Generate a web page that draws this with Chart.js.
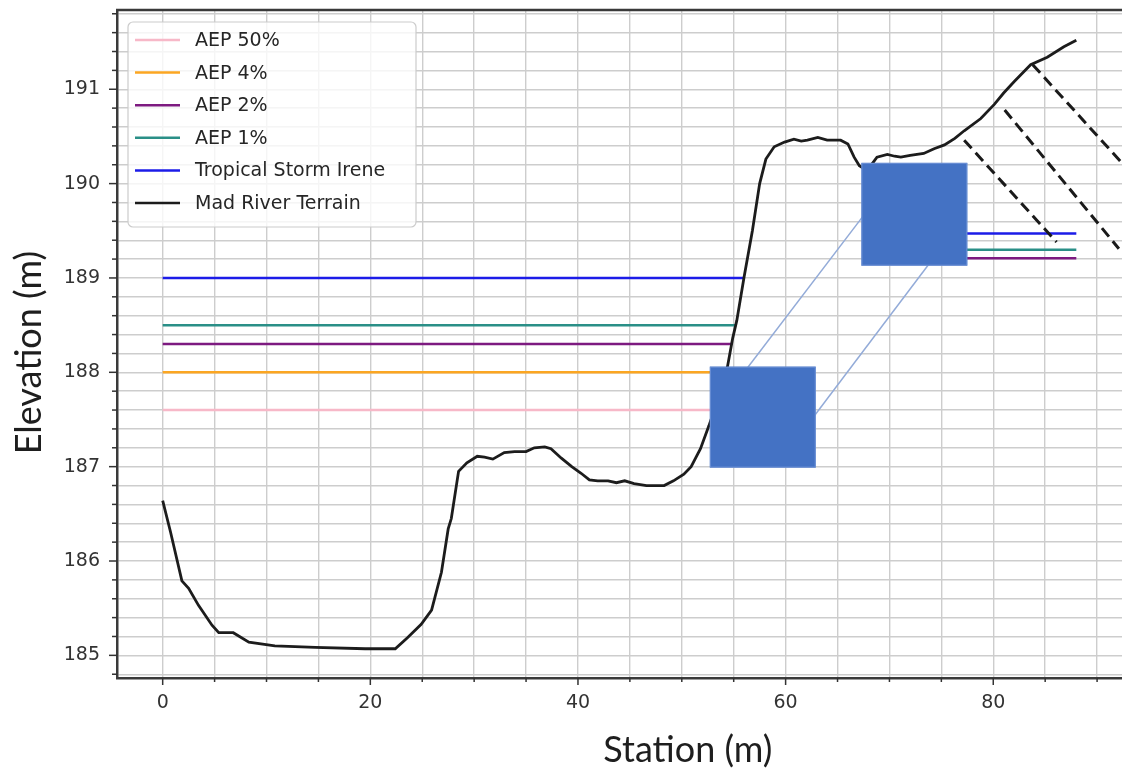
<!DOCTYPE html>
<html>
<head>
<meta charset="utf-8">
<script src="https://cdn.jsdelivr.net/npm/chart.js@4.4.1/dist/chart.umd.min.js"></script>
<style>
  html, body { margin: 0; padding: 0; background: #fff; overflow: hidden; }
  #wrap { width: 1122px; height: 771px; }
</style>
</head>
<body>
<div id="wrap"><canvas id="xs" width="1122" height="771"></canvas></div>
<script>
// Mad River cross section
const stationM = [0, 0.75, 1.85, 2.5, 3.45, 4.75, 5.4, 6.8, 8.3, 10.8,
  14.7, 19.5, 22.4, 23.6, 24.9, 25.9, 26.85, 27.5, 27.8, 28.5,
  29.3, 30.3, 31.0, 31.8, 32.9, 33.9, 35.0, 35.8, 36.8, 37.4,
  38.4, 39.4, 40.3, 41.1, 41.9, 42.9, 43.7, 44.5, 45.4, 46.6,
  47.4, 48.3, 49.2, 50.2, 50.9, 51.8, 52.6, 53.5, 54.4, 54.9,
  55.3, 56.0, 56.8, 57.5, 58.1, 58.9, 59.9, 60.8, 61.5, 62.1,
  63.1, 64.0, 65.3, 66.0, 66.6, 67.1, 67.7, 68.2, 68.8, 69.8,
  70.5, 71.1, 72.0, 73.3, 74.3, 75.3, 76.3, 77.2, 78.8, 80.1,
  81.0, 82.0, 83.6, 85.2, 86.8, 88.0];
const terrainM = [186.64, 186.31, 185.79, 185.71, 185.53, 185.32, 185.24, 185.24, 185.14, 185.10,
  185.085, 185.07, 185.07, 185.19, 185.33, 185.48, 185.88, 186.34, 186.45, 186.95,
  187.04, 187.11, 187.10, 187.08, 187.15, 187.16, 187.16, 187.20, 187.21, 187.19,
  187.09, 187.00, 186.93, 186.86, 186.85, 186.85, 186.83, 186.85, 186.82, 186.80,
  186.80, 186.80, 186.85, 186.92, 187.00, 187.19, 187.43, 187.72, 188.06, 188.36,
  188.55, 189.01, 189.50, 190.00, 190.26, 190.39, 190.44, 190.47, 190.45, 190.46,
  190.49, 190.46, 190.46, 190.42, 190.28, 190.19, 190.15, 190.19, 190.28, 190.31,
  190.29, 190.28, 190.30, 190.32, 190.37, 190.41, 190.48, 190.56, 190.69, 190.84,
  190.96, 191.08, 191.26, 191.34, 191.45, 191.52];

// water surface elevations (left overbank / right overbank)
const levelNames = ["AEP 50%", "AEP 4%", "AEP 2%", "AEP 1%", "Tropical Storm Irene"];
const levelColors = ["#f7b8c8", "#fba622", "#7d1a80", "#2a8f87", "#1c1ce8"];
const levelLeft = [187.6, 188.0, 188.3, 188.5, 189.0];
const levelLeftEnd = [53.1, 54.3, 54.85, 55.25, 56.0];
const levelRight = [null, null, 189.21, 189.3, 189.47];
const rightStart = 70;
const rightEnd = 88;

// culvert sketch (two faces + connecting edges) and dashed slope lines
const boxLeft = [52.7, 67.3];
const boxRight = [62.9, 77.5];
const boxTop = [188.06, 190.22];
const boxBottom = [186.99, 189.13];
const edgeX0 = [56.0, 62.3];
const edgeY0 = [188.0, 187.47];
const edgeX1 = [67.7, 74.3];
const edgeY1 = [189.69, 189.22];
const dashX0 = [77.2, 81.1, 83.8];
const dashY0 = [190.46, 190.78, 191.26];
const dashX1 = [86.1, 92.1, 99.9];
const dashY1 = [189.38, 189.31, 189.31];

// axes
const xMin = -4.4, xMax = 92.4, xStep = 5;
const yMin = 184.76, yMax = 191.84, yStep = 0.2;
const xMajor = [0, 20, 40, 60, 80];
const yMajor = [185, 186, 187, 188, 189, 190, 191];

const tickFont = { family: "DejaVu Sans", size: 19 };
const isMajor = (list, v) => list.some(m => Math.abs(m - v) < 1e-6);

const datasets = [];
datasets.push({
  label: "Mad River Terrain",
  data: stationM.map((s, i) => ({ x: s, y: terrainM[i] })),
  borderColor: "#1c1c1c",
  borderWidth: 2.8,
  order: 0
});
levelNames.forEach((name, i) => {
  const pts = [{ x: 0, y: levelLeft[i] }, { x: levelLeftEnd[i], y: levelLeft[i] }];
  if (levelRight[i] !== null) {
    pts.push({ x: (levelLeftEnd[i] + rightStart) / 2, y: null });
    pts.push({ x: rightStart, y: levelRight[i] }, { x: rightEnd, y: levelRight[i] });
  }
  datasets.push({ label: name, data: pts, borderColor: levelColors[i], borderWidth: 2.5, order: 2 });
});
dashX0.forEach((_, i) => {
  datasets.push({
    label: "slope" + i,
    data: [{ x: dashX0[i], y: dashY0[i] }, { x: dashX1[i], y: dashY1[i] }],
    borderColor: "#1a1a1a", borderWidth: 3, borderDash: [11, 6], order: 1
  });
});
edgeX0.forEach((_, i) => {
  datasets.push({
    label: "edge" + i,
    data: [{ x: edgeX0[i], y: edgeY0[i] }, { x: edgeX1[i], y: edgeY1[i] }],
    borderColor: "#93abd8", borderWidth: 1.5, order: 1
  });
});
datasets.forEach(d => { d.showLine = true; d.pointRadius = 0; d.spanGaps = false; d.fill = false; });

const legendItems = [1, 2, 3, 4, 5, 0];

const sketch = {
  id: "sketch",
  afterDatasetsDraw(chart) {
    const { ctx, scales: { x, y } } = chart;
    ctx.save();
    ctx.beginPath();
    ctx.rect(chart.chartArea.left, chart.chartArea.top, chart.chartArea.width, chart.chartArea.height);
    ctx.clip();
    boxLeft.forEach((_, i) => {
      const l = x.getPixelForValue(boxLeft[i]), r = x.getPixelForValue(boxRight[i]);
      const t = y.getPixelForValue(boxTop[i]), b = y.getPixelForValue(boxBottom[i]);
      ctx.fillStyle = "#4472c4";
      ctx.fillRect(l, t, r - l, b - t);
      ctx.strokeStyle = "#6e92d6";
      ctx.lineWidth = 1;
      ctx.strokeRect(l + 0.5, t + 0.5, r - l - 1, b - t - 1);
    });
    ctx.restore();
  },
  afterDraw(chart) {
    const { ctx, chartArea: a, scales: { x, y } } = chart;
    ctx.save();
    // top spine
    ctx.strokeStyle = "#3a3a3a";
    ctx.lineWidth = 2.5;
    ctx.beginPath();
    ctx.moveTo(a.left - 1, a.top);
    ctx.lineTo(a.right, a.top);
    ctx.stroke();
    // tick marks
    ctx.lineWidth = 1.5;
    ctx.strokeStyle = "#333";
    x.ticks.forEach(t => {
      const px = x.getPixelForValue(t.value);
      ctx.beginPath();
      ctx.moveTo(px, a.bottom);
      ctx.lineTo(px, a.bottom + (isMajor(xMajor, t.value) ? 7 : 4));
      ctx.stroke();
    });
    y.ticks.forEach(t => {
      const py = y.getPixelForValue(t.value);
      ctx.beginPath();
      ctx.moveTo(a.left, py);
      ctx.lineTo(a.left - (isMajor(yMajor, t.value) ? 8 : 5), py);
      ctx.stroke();
    });
    // axis titles
    ctx.fillStyle = "#1e1e1e";
    ctx.font = "36px Lato";
    ctx.textAlign = "center";
    ctx.textBaseline = "middle";
    ctx.fillText("Station (m)", a.left + a.width * 0.568, a.bottom + 72);
    ctx.save();
    ctx.translate(29, a.top + a.height * 0.513);
    ctx.rotate(-Math.PI / 2);
    ctx.fillText("Elevation (m)", 0, 0);
    ctx.restore();
    // legend
    const lx = a.left + 11, ly = a.top + 12, lw = 288, lh = 205;
    ctx.fillStyle = "rgba(255,255,255,0.8)";
    ctx.strokeStyle = "#cccccc";
    ctx.lineWidth = 1.2;
    ctx.beginPath();
    ctx.roundRect(lx, ly, lw, lh, 5);
    ctx.fill();
    ctx.stroke();
    ctx.font = "19px 'DejaVu Sans'";
    ctx.textAlign = "left";
    legendItems.forEach((di, k) => {
      const ds = chart.data.datasets[di];
      const ry = ly + 18 + k * 32.6;
      ctx.strokeStyle = ds.borderColor;
      ctx.lineWidth = 2.5;
      ctx.beginPath();
      ctx.moveTo(lx + 7, ry);
      ctx.lineTo(lx + 52, ry);
      ctx.stroke();
      ctx.fillStyle = "#262626";
      ctx.fillText(ds.label, lx + 67, ry + 1);
    });
    ctx.restore();
  }
};

new Chart(document.getElementById("xs"), {
  type: "scatter",
  data: { datasets },
  options: {
    responsive: false,
    animation: false,
    layout: { padding: { top: 10, right: 0, left: 0, bottom: 0 } },
    plugins: { legend: { display: false }, tooltip: { enabled: false } },
    scales: {
      x: {
        type: "linear",
        min: xMin, max: xMax,
        afterBuildTicks: s => {
          const ticks = [];
          for (let v = Math.ceil(xMin / xStep) * xStep; v <= xMax; v += xStep) ticks.push({ value: v });
          s.ticks = ticks;
        },
        afterFit: s => { s.height = 93; s.paddingLeft = 0; s.paddingRight = 0; },
        grid: { color: "#cdcdcd", lineWidth: 1.4, drawTicks: false },
        border: { display: true, color: "#3a3a3a", width: 2.5 },
        ticks: {
          autoSkip: false, maxRotation: 0, padding: 14,
          font: tickFont, color: "#333",
          callback: v => isMajor(xMajor, v) ? String(Math.round(v)) : ""
        }
      },
      y: {
        type: "linear",
        min: yMin, max: yMax,
        afterBuildTicks: s => {
          const ticks = [];
          for (let k = Math.ceil(yMin / yStep); k * yStep <= yMax; k++) ticks.push({ value: Math.round(k * yStep * 10) / 10 });
          s.ticks = ticks;
        },
        afterFit: s => { s.width = 117; s.paddingTop = 0; s.paddingBottom = 0; },
        grid: { color: "#cdcdcd", lineWidth: 1.4, drawTicks: false },
        border: { display: true, color: "#3a3a3a", width: 2.5 },
        ticks: {
          autoSkip: false, padding: 17,
          font: tickFont, color: "#333",
          callback: v => isMajor(yMajor, v) ? String(Math.round(v)) : ""
        }
      }
    }
  },
  plugins: [sketch]
});
</script>
</body>
</html>
